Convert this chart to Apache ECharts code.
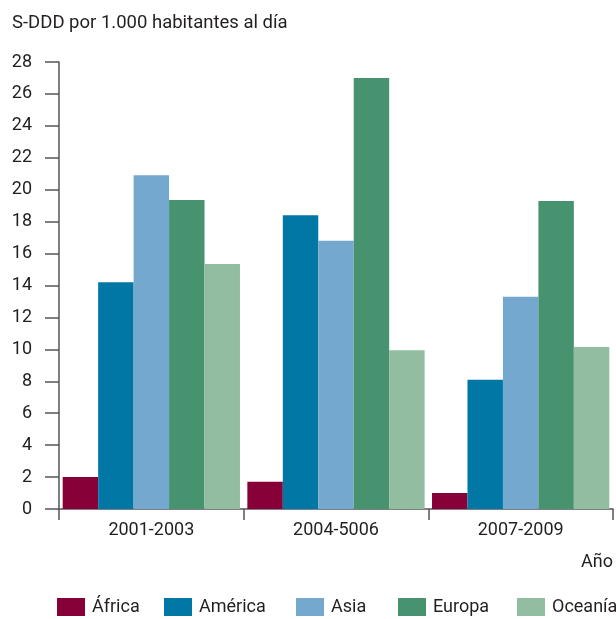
<!DOCTYPE html>
<html>
<head>
<meta charset="utf-8">
<script src="https://cdn.jsdelivr.net/npm/echarts@6/dist/echarts.min.js"></script>
<style>
html,body{margin:0;padding:0;background:#fff;}
#chart{width:616px;height:619px;}
</style>
</head>
<body>
<div id="chart"></div>
<script>
const categories = ['2001-2003', '2004-5006', '2007-2009'];
const africa   = [2.0, 1.7, 1.0];
const america  = [14.2, 18.4, 8.1];
const asia     = [20.9, 16.8, 13.3];
const europa   = [19.35, 27.0, 19.3];
const oceania  = [15.35, 9.95, 10.15];
const seriesNames = ['África', 'América', 'Asia', 'Europa', 'Oceanía'];
const seriesValues = [africa, america, asia, europa, oceania];
const colors = ['#870038', '#0077A5', '#75A8CE', '#48936F', '#93BDA0'];
const yTitle = 'S-DDD por 1.000 habitantes al día';
const xTitle = 'Año';

const FONT = '"Roboto", "Liberation Sans", sans-serif';
const TXT = '#231F20';
const AX = '#555555';
const FS = 18;
const legendLefts = [57, 164, 296, 398, 517];

const chart = echarts.init(document.getElementById('chart'), null, {renderer: 'canvas'});
chart.setOption({
  animation: false,
  textStyle: {fontFamily: FONT},
  title: [
    {text: yTitle, left: 12, top: 14, padding: 0,
     textStyle: {fontFamily: FONT, fontSize: 18.5, fontWeight: 'normal', color: TXT}},
    {text: xTitle, right: 3, top: 553, padding: 0,
     textStyle: {fontFamily: FONT, fontSize: FS, fontWeight: 'normal', color: TXT}}
  ],
  legend: seriesNames.map((n, i) => ({
    data: [n], left: legendLefts[i], top: 598, padding: 0,
    itemWidth: 28, itemHeight: 18, icon: 'rect',
    textStyle: {fontFamily: FONT, fontSize: FS, color: TXT, padding: [3, 0, 0, 2]}
  })),
  grid: {left: 59, right: 3, top: 62, bottom: 110, containLabel: false},
  xAxis: {
    type: 'category', data: categories,
    axisLine: {lineStyle: {color: AX, width: 1.5}},
    axisTick: {show: true, length: 11, interval: 0, lineStyle: {color: AX, width: 1.5}},
    axisLabel: {margin: 12, fontFamily: FONT, fontSize: FS, color: TXT, interval: 0}
  },
  yAxis: {
    type: 'value', min: 0, max: 28, interval: 2,
    splitLine: {show: false},
    axisLine: {show: true, lineStyle: {color: AX, width: 1.5}},
    axisTick: {show: true, length: 14, lineStyle: {color: AX, width: 1.5}},
    axisLabel: {margin: 27, fontFamily: FONT, fontSize: FS, color: TXT}
  },
  series: seriesNames.map((n, i) => ({
    name: n, type: 'bar', data: seriesValues[i],
    barGap: '0%', barCategoryGap: '4%',
    itemStyle: {color: colors[i]}
  }))
});
</script>
</body>
</html>
